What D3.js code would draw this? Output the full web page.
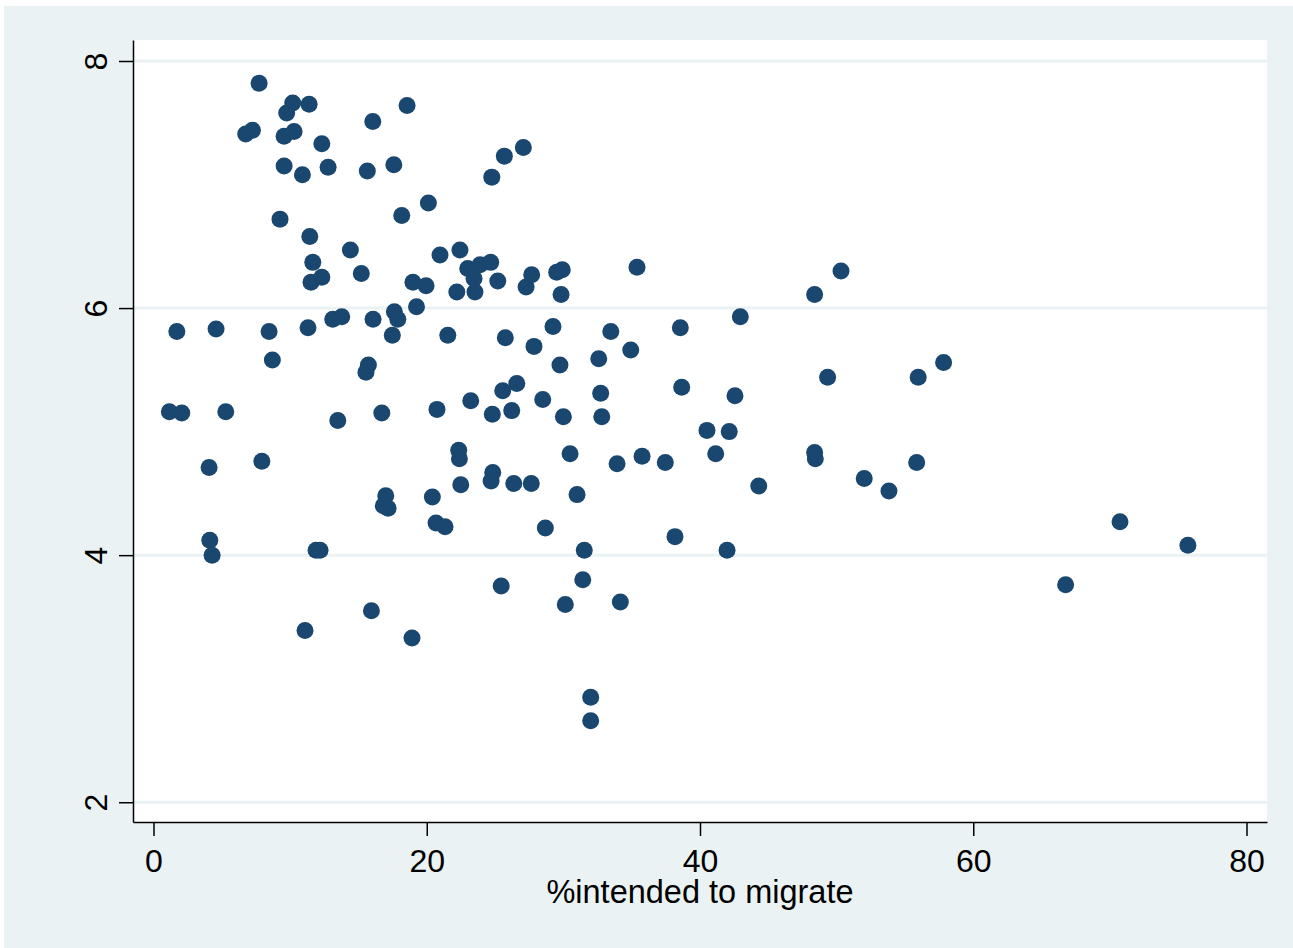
<!DOCTYPE html>
<html>
<head>
<meta charset="utf-8">
<script src="https://cdn.jsdelivr.net/npm/d3@7"></script>
<style>
  html, body { margin: 0; padding: 0; background: #ffffff; }
  svg { display: block; }
  .axis text { font-family: "Liberation Sans", Arial, sans-serif; font-size: 32px; fill: #000; }
  .axis path, .axis line { stroke: #000; stroke-width: 1.5px; }
  .axis-title { font-family: "Liberation Sans", Arial, sans-serif; font-size: 32.5px; fill: #000; }
</style>
</head>
<body>
<div id="scatter"></div>
<script>
// values
var migrateIntent = [
  7.73, 10.19, 11.39, 9.75, 16.05, 18.56, 6.75, 7.24, 9.56, 10.29,
  12.32, 9.56, 10.90, 12.78, 15.65, 17.59, 25.68, 27.07, 24.76, 9.26,
  18.17, 20.12, 11.44, 14.41, 11.66, 12.32, 11.53, 15.21, 18.99, 19.95,
  20.97, 22.43, 22.20, 23.00, 23.46, 23.90, 24.68, 23.53, 25.20, 27.27,
  27.68, 29.51, 29.92, 29.83, 35.39, 19.25, 13.12, 13.78, 16.07, 17.63,
  17.88, 17.48, 11.31, 8.46, 4.58, 1.71, 8.70, 21.54, 25.75, 27.85,
  29.24, 29.75, 33.47, 32.59, 34.93, 38.56, 42.95, 15.73, 15.55, 25.56,
  26.59, 32.73, 38.66, 1.16, 2.07, 5.29, 13.49, 16.71, 20.75, 23.22,
  24.80, 26.22, 28.49, 30.00, 32.81, 42.56, 49.34, 55.97, 57.83, 48.39,
  50.32, 4.07, 7.93, 22.34, 22.39, 24.83, 24.71, 22.49, 26.37, 27.65,
  30.49, 31.00, 33.93, 35.76, 37.46, 40.51, 42.14, 41.15, 44.30, 48.39,
  48.44, 52.02, 53.83, 55.86, 17.00, 16.82, 17.17, 20.41, 20.68, 21.34,
  28.68, 4.12, 4.29, 11.90, 12.19, 31.53, 38.17, 41.98, 25.45, 31.42,
  34.17, 30.14, 15.95, 11.09, 18.92, 32.00, 32.00, 66.76, 70.74, 75.71
];

var outcome = [
  7.82, 7.66, 7.65, 7.58, 7.51, 7.64, 7.41, 7.44, 7.39, 7.43,
  7.33, 7.15, 7.08, 7.14, 7.11, 7.16, 7.23, 7.30, 7.06, 6.72,
  6.75, 6.85, 6.58, 6.47, 6.37, 6.25, 6.21, 6.28, 6.21, 6.18,
  6.43, 6.47, 6.13, 6.32, 6.24, 6.35, 6.37, 6.13, 6.22, 6.17,
  6.27, 6.29, 6.31, 6.11, 6.33, 6.01, 5.91, 5.93, 5.91, 5.97,
  5.91, 5.78, 5.84, 5.81, 5.83, 5.81, 5.58, 5.78, 5.76, 5.69,
  5.85, 5.54, 5.81, 5.59, 5.66, 5.84, 5.93, 5.54, 5.48, 5.33,
  5.39, 5.31, 5.36, 5.16, 5.15, 5.16, 5.09, 5.15, 5.18, 5.25,
  5.14, 5.17, 5.26, 5.12, 5.12, 5.29, 5.44, 5.44, 5.56, 6.11,
  6.30, 4.71, 4.76, 4.85, 4.78, 4.67, 4.60, 4.57, 4.58, 4.58,
  4.82, 4.49, 4.74, 4.80, 4.75, 5.01, 5.00, 4.82, 4.56, 4.83,
  4.78, 4.62, 4.52, 4.75, 4.48, 4.40, 4.38, 4.47, 4.26, 4.23,
  4.22, 4.12, 4.00, 4.04, 4.04, 4.04, 4.15, 4.04, 3.75, 3.80,
  3.62, 3.60, 3.55, 3.39, 3.33, 2.85, 2.66, 3.76, 4.27, 4.08
];

var xTicks = [0, 20, 40, 60, 80];
var yTicks = [2, 4, 6, 8];
var xTitle = "%intended to migrate";

var svgWidth = 1293;
var svgHeight = 948;

// plot region inside the svg
var plot = { left: 133, top: 40, right: 1267, bottom: 822 };

var data = migrateIntent.map(function(v, i) {
  return { x: v, y: outcome[i] };
});

var svg = d3.select("#scatter")
  .append("svg")
  .attr("width", svgWidth)
  .attr("height", svgHeight);

// outer graph region
svg.append("rect")
  .attr("x", 4)
  .attr("y", 6)
  .attr("width", svgWidth - 4)
  .attr("height", svgHeight - 6)
  .attr("fill", "#eaf2f3");

// inner plot region
svg.append("rect")
  .attr("x", plot.left)
  .attr("y", plot.top)
  .attr("width", plot.right - plot.left)
  .attr("height", plot.bottom - plot.top)
  .attr("fill", "#ffffff");

var xScale = d3.scaleLinear()
  .domain([-1.5, 81.5])
  .range([plot.left, plot.right]);

var yScale = d3.scaleLinear()
  .domain([1.84, 8.17])
  .range([plot.bottom, plot.top]);

// horizontal grid lines
svg.append("g")
  .selectAll("line")
  .data(yTicks)
  .enter()
  .append("line")
  .attr("x1", plot.left)
  .attr("x2", plot.right)
  .attr("y1", d => yScale(d))
  .attr("y2", d => yScale(d))
  .attr("stroke", "#eaf2f3")
  .attr("stroke-width", 3);

// points
svg.append("g")
  .selectAll("circle")
  .data(data)
  .enter()
  .append("circle")
  .attr("cx", d => xScale(d.x))
  .attr("cy", d => yScale(d.y))
  .attr("r", 8.5)
  .attr("fill", "#1a476f");

// x axis
var xAxis = svg.append("g")
  .attr("class", "axis")
  .attr("transform", `translate(0, ${plot.bottom})`)
  .call(d3.axisBottom(xScale).tickValues(xTicks).tickFormat(d3.format("d"))
    .tickSize(14).tickSizeOuter(0));

xAxis.selectAll("text")
  .attr("y", 50)
  .attr("dy", 0);

// y axis
var yAxis = svg.append("g")
  .attr("class", "axis")
  .attr("transform", `translate(${plot.left}, 0)`)
  .call(d3.axisLeft(yScale).tickValues(yTicks).tickFormat(d3.format("d"))
    .tickSize(14).tickSizeOuter(0));

// rotated tick labels like the original
yAxis.selectAll("text")
  .attr("x", 0)
  .attr("y", -26)
  .attr("dy", 0)
  .attr("text-anchor", "middle")
  .attr("transform", "rotate(-90)");

// axis title
svg.append("text")
  .attr("class", "axis-title")
  .attr("x", (plot.left + plot.right) / 2)
  .attr("y", 903)
  .attr("text-anchor", "middle")
  .text(xTitle);
</script>
</body>
</html>
